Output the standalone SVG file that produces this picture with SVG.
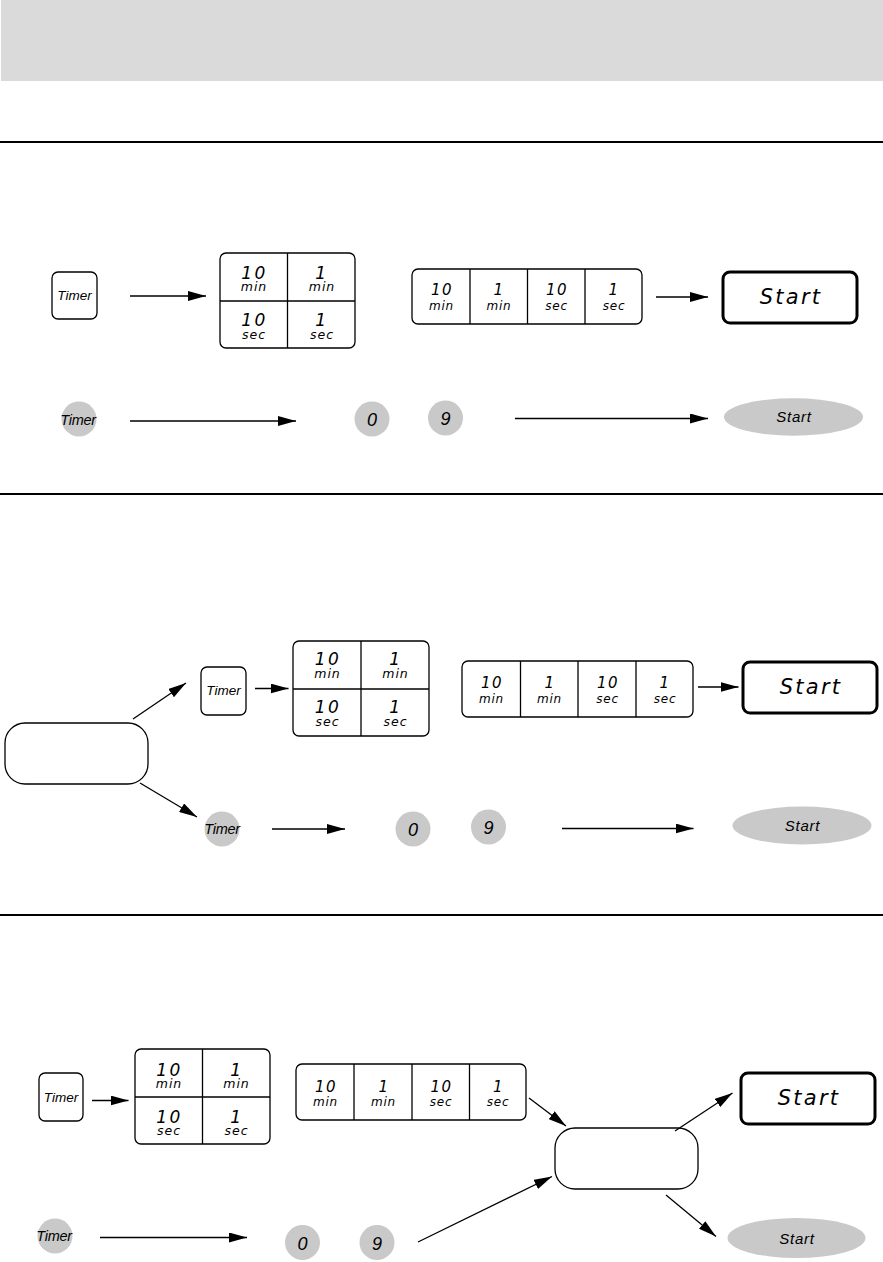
<svg xmlns="http://www.w3.org/2000/svg" width="883" height="1262" viewBox="0 0 883 1262">
<style>
.box{fill:#fff;stroke:#000;stroke-width:1.3}
.start{fill:#fff;stroke:#000;stroke-width:3}
.div{stroke:#000;stroke-width:1.3}
.gray{fill:#c9c9c9;stroke:none}
.sep{stroke:#000;stroke-width:2}
.con{stroke:#000;stroke-width:1.3;fill:none;marker-end:url(#ah)}
.num{font-family:"DejaVu Sans",sans-serif;font-style:italic;font-size:17px;letter-spacing:2.5px;text-anchor:middle;fill:#000}
.snum{font-family:"DejaVu Sans",sans-serif;font-style:italic;font-size:15px;letter-spacing:1.5px;text-anchor:middle;fill:#000}
.unit{font-family:"DejaVu Sans",sans-serif;font-style:italic;font-size:12.5px;letter-spacing:1px;text-anchor:middle;fill:#000}
.sunit{font-family:"DejaVu Sans",sans-serif;font-style:italic;font-size:12px;letter-spacing:0.8px;text-anchor:middle;fill:#000}
.tmr{font-family:"Liberation Sans",Arial,sans-serif;font-style:italic;font-size:13.5px;text-anchor:middle;fill:#000}
.gtmr{font-family:"Liberation Sans",Arial,sans-serif;font-style:italic;font-size:14.5px;letter-spacing:-0.3px;text-anchor:middle;fill:#000}
.gdig{font-family:"Liberation Sans",Arial,sans-serif;font-style:italic;font-size:18px;text-anchor:middle;fill:#000}
.gst{font-family:"Liberation Sans",Arial,sans-serif;font-style:italic;font-size:15px;letter-spacing:0.8px;text-anchor:middle;fill:#000}
.st{font-family:"DejaVu Sans",sans-serif;font-style:italic;font-size:21px;letter-spacing:2.2px;text-anchor:middle;fill:#000}
</style>
<defs>
<marker id="ah" markerUnits="userSpaceOnUse" markerWidth="18" markerHeight="10" refX="18" refY="5" orient="auto">
<path d="M0,0 L18,5 L0,10 z" fill="#000"/>
</marker>
</defs>

<g id="header">
<rect x="1" y="0" width="882" height="81" fill="#dadada"/>
<line class="sep" x1="0" y1="142" x2="883" y2="142"/>
<line class="sep" x1="0" y1="494" x2="883" y2="494"/>
<line class="sep" x1="0" y1="915" x2="883" y2="915"/>
</g>

<!-- Section 1 -->
<g id="s1-timer">
<rect class="box" x="52" y="272" width="45" height="47" rx="6"/>
<text class="tmr" x="74.5" y="300">Timer</text>
</g>
<g id="s1-grid">
<rect class="box" x="220" y="253" width="135" height="95" rx="6"/>
<line class="div" x1="287.5" y1="253" x2="287.5" y2="348"/>
<line class="div" x1="220" y1="301" x2="355" y2="301"/>
<text class="num" x="254.5" y="278.5">10</text><text class="unit" x="254" y="290.5">min</text>
<text class="num" x="322" y="278.5">1</text><text class="unit" x="322" y="290.5">min</text>
<text class="num" x="254.5" y="325.5">10</text><text class="unit" x="254" y="338.5">sec</text>
<text class="num" x="322" y="325.5">1</text><text class="unit" x="322" y="338.5">sec</text>
</g>
<g id="s1-strip">
<rect class="box" x="412" y="269" width="230" height="55" rx="6"/>
<line class="div" x1="470" y1="269" x2="470" y2="324"/>
<line class="div" x1="527.5" y1="269" x2="527.5" y2="324"/>
<line class="div" x1="585" y1="269" x2="585" y2="324"/>
<text class="snum" x="442" y="295">10</text><text class="sunit" x="441.5" y="310">min</text>
<text class="snum" x="499" y="295">1</text><text class="sunit" x="499" y="310">min</text>
<text class="snum" x="557" y="295">10</text><text class="sunit" x="556.5" y="310">sec</text>
<text class="snum" x="614" y="295">1</text><text class="sunit" x="614" y="310">sec</text>
</g>
<g id="s1-start">
<rect class="start" x="723" y="272" width="134" height="51" rx="7"/>
<text class="st" x="791" y="304">Start</text>
</g>
<g id="s1-gtimer">
<circle class="gray" cx="79" cy="419" r="17.5"/>
<text class="gtmr" x="78" y="425">Timer</text>
</g>
<g id="s1-g0">
<circle class="gray" cx="372" cy="419" r="17.5"/>
<text class="gdig" x="372" y="426">0</text>
</g>
<g id="s1-g9">
<circle class="gray" cx="445.5" cy="418" r="17.5"/>
<text class="gdig" x="445.5" y="425">9</text>
</g>
<g id="s1-gstart">
<ellipse class="gray" cx="793.5" cy="417" rx="69.5" ry="18.7"/>
<text class="gst" x="794" y="422">Start</text>
</g>

<!-- Section 2 -->
<g id="s2-choice">
<rect class="box" x="5" y="723" width="143" height="61" rx="20"/>
</g>
<g id="s2-timer">
<rect class="box" x="201" y="667" width="45" height="48" rx="6"/>
<text class="tmr" x="223.5" y="695">Timer</text>
</g>
<g id="s2-grid">
<rect class="box" x="293" y="641" width="136" height="95" rx="6"/>
<line class="div" x1="361" y1="641" x2="361" y2="736"/>
<line class="div" x1="293" y1="689" x2="429" y2="689"/>
<text class="num" x="328" y="665">10</text><text class="unit" x="327.5" y="678">min</text>
<text class="num" x="396" y="665">1</text><text class="unit" x="395.5" y="678">min</text>
<text class="num" x="328" y="713">10</text><text class="unit" x="327.5" y="726">sec</text>
<text class="num" x="396" y="713">1</text><text class="unit" x="395.5" y="726">sec</text>
</g>
<g id="s2-strip">
<rect class="box" x="462" y="661" width="231" height="56" rx="6"/>
<line class="div" x1="520.5" y1="661" x2="520.5" y2="717"/>
<line class="div" x1="578" y1="661" x2="578" y2="717"/>
<line class="div" x1="636" y1="661" x2="636" y2="717"/>
<text class="snum" x="492" y="688">10</text><text class="sunit" x="491.5" y="703">min</text>
<text class="snum" x="550" y="688">1</text><text class="sunit" x="549.5" y="703">min</text>
<text class="snum" x="608" y="688">10</text><text class="sunit" x="607.5" y="703">sec</text>
<text class="snum" x="665" y="688">1</text><text class="sunit" x="665" y="703">sec</text>
</g>
<g id="s2-start">
<rect class="start" x="743" y="662" width="134" height="51" rx="7"/>
<text class="st" x="811" y="694">Start</text>
</g>
<g id="s2-gtimer">
<circle class="gray" cx="222" cy="829" r="17.5"/>
<text class="gtmr" x="222" y="834">Timer</text>
</g>
<g id="s2-g0">
<circle class="gray" cx="413" cy="829" r="17.5"/>
<text class="gdig" x="413" y="836">0</text>
</g>
<g id="s2-g9">
<circle class="gray" cx="488.5" cy="827" r="17.5"/>
<text class="gdig" x="488.5" y="834">9</text>
</g>
<g id="s2-gstart">
<ellipse class="gray" cx="802" cy="825.5" rx="69.5" ry="19"/>
<text class="gst" x="802.5" y="831">Start</text>
</g>

<!-- Section 3 -->
<g id="s3-timer">
<rect class="box" x="39" y="1073" width="44" height="48" rx="6"/>
<text class="tmr" x="61" y="1102">Timer</text>
</g>
<g id="s3-grid">
<rect class="box" x="135" y="1049" width="135" height="95" rx="6"/>
<line class="div" x1="202.5" y1="1049" x2="202.5" y2="1144"/>
<line class="div" x1="135" y1="1097" x2="270" y2="1097"/>
<text class="num" x="169.5" y="1076">10</text><text class="unit" x="169" y="1088">min</text>
<text class="num" x="237" y="1076">1</text><text class="unit" x="236.5" y="1088">min</text>
<text class="num" x="169.5" y="1123">10</text><text class="unit" x="169" y="1134.5">sec</text>
<text class="num" x="237" y="1123">1</text><text class="unit" x="236.5" y="1134.5">sec</text>
</g>
<g id="s3-strip">
<rect class="box" x="296" y="1064" width="230" height="56" rx="6"/>
<line class="div" x1="354" y1="1064" x2="354" y2="1120"/>
<line class="div" x1="412" y1="1064" x2="412" y2="1120"/>
<line class="div" x1="469.5" y1="1064" x2="469.5" y2="1120"/>
<text class="snum" x="326" y="1091.5">10</text><text class="sunit" x="325.5" y="1105.5">min</text>
<text class="snum" x="384" y="1091.5">1</text><text class="sunit" x="383.5" y="1105.5">min</text>
<text class="snum" x="441.5" y="1091.5">10</text><text class="sunit" x="441" y="1105.5">sec</text>
<text class="snum" x="498.5" y="1091.5">1</text><text class="sunit" x="498" y="1105.5">sec</text>
</g>
<g id="s3-choice">
<rect class="box" x="555" y="1128" width="143" height="61" rx="20"/>
</g>
<g id="s3-start">
<rect class="start" x="741" y="1073" width="134" height="51" rx="7"/>
<text class="st" x="809" y="1105">Start</text>
</g>
<g id="s3-gtimer">
<circle class="gray" cx="55" cy="1236" r="17.5"/>
<text class="gtmr" x="54" y="1241">Timer</text>
</g>
<g id="s3-g0">
<circle class="gray" cx="302.5" cy="1242.5" r="17.5"/>
<text class="gdig" x="302.5" y="1249.5">0</text>
</g>
<g id="s3-g9">
<circle class="gray" cx="377" cy="1242.5" r="17.5"/>
<text class="gdig" x="377" y="1249.5">9</text>
</g>
<g id="s3-gstart">
<ellipse class="gray" cx="796.5" cy="1238" rx="69" ry="20"/>
<text class="gst" x="797" y="1243.5">Start</text>
</g>

<g id="connectors">
<line class="con" x1="130" y1="296" x2="206" y2="296"/>
<line class="con" x1="656" y1="297" x2="708" y2="297"/>
<line class="con" x1="130" y1="421" x2="296" y2="421"/>
<line class="con" x1="515" y1="418.5" x2="708" y2="418.5"/>

<line class="con" x1="133" y1="719" x2="186" y2="683"/>
<line class="con" x1="140" y1="783" x2="197" y2="817"/>
<line class="con" x1="255" y1="688.5" x2="288.5" y2="688.5"/>
<line class="con" x1="698" y1="687" x2="738.5" y2="687"/>
<line class="con" x1="272" y1="829" x2="345" y2="829"/>
<line class="con" x1="562" y1="828.5" x2="693.5" y2="828.5"/>

<line class="con" x1="92" y1="1100.5" x2="128.5" y2="1100.5"/>
<line class="con" x1="100" y1="1237.5" x2="247" y2="1237.5"/>
<line class="con" x1="529" y1="1098" x2="566" y2="1126"/>
<line class="con" x1="418" y1="1242" x2="552" y2="1176.5"/>
<line class="con" x1="675" y1="1131" x2="732.5" y2="1093"/>
<line class="con" x1="666" y1="1195" x2="716" y2="1236.5"/>
</g>
</svg>
